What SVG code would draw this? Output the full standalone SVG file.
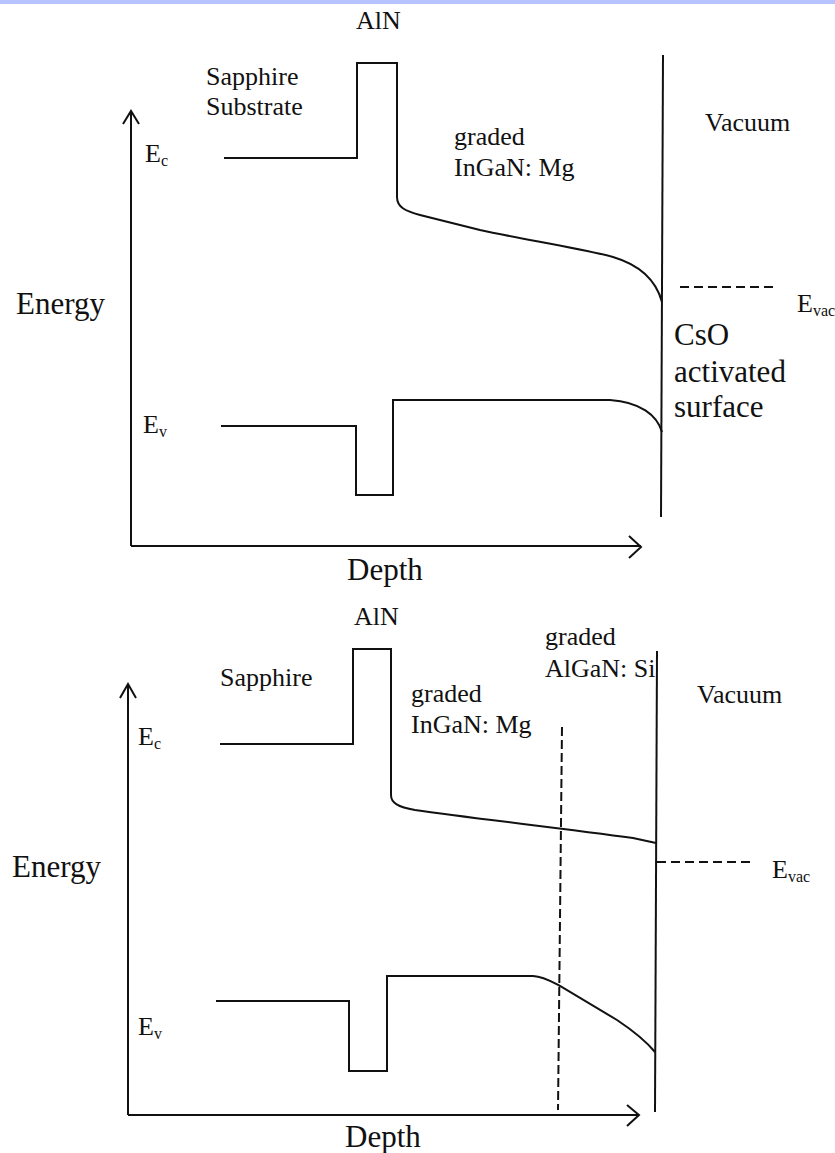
<svg xmlns="http://www.w3.org/2000/svg" width="835" height="1153" viewBox="0 0 835 1153">
<style>
.l{font-size:26px}
.b{font-size:31px}
.e{font-size:26px}
.s{font-size:16px}
.ln{fill:none;stroke:#111;stroke-width:2;stroke-linejoin:miter}
.ds{fill:none;stroke:#111;stroke-width:2;stroke-dasharray:9 5}
</style>
<rect x="0" y="0" width="835" height="1153" fill="#fff"/>
<rect x="0" y="0" width="835" height="4" fill="#b7c3ff"/>
<g id="connectors">
<path class="ln" d="M131,546 V111 M123,124 L131,111 L139,124"/>
<path class="ln" d="M131,546 H641 M629,536 L641,547 L629,558"/>
<path class="ln" d="M128,1115 V684 M120,698 L128,684 L136,698"/>
<path class="ln" d="M128,1115 H639 M627,1105 L639,1115 L627,1126"/>
</g>
<g id="top-panel" font-family="'Liberation Serif', 'Times New Roman', 'DejaVu Serif', serif" fill="#111">
<path id="top-ec" class="ln" d="M224,158 H357 V63 H397 V197 C397,207 405,211 420,215 L480,230 C520,239 580,248 613,257 C640,265 656,280 662,302"/>
<path id="top-ev" class="ln" d="M221,426 H356 V495 H393 V400 H610 C640,402 657,415 662,432"/>
<line id="top-vacuum" class="ln" x1="663" y1="55" x2="661" y2="517"/>
<line id="top-evac" class="ds" x1="680" y1="287" x2="777" y2="287"/>
<text class="l" x="356" y="29">AlN</text>
<text class="l" x="206" y="85">Sapphire</text>
<text class="l" x="206" y="115">Substrate</text>
<text class="e" x="145" y="162">E<tspan class="s" dy="4">c</tspan></text>
<text class="l" x="454" y="145">graded</text>
<text class="l" x="454" y="176">InGaN: Mg</text>
<text class="l" x="705" y="131">Vacuum</text>
<text class="b" x="16" y="314">Energy</text>
<text class="e" x="797" y="312">E<tspan class="s" dy="4">vac</tspan></text>
<text class="b" x="674" y="345">CsO</text>
<text class="b" x="674" y="382">activated</text>
<text class="b" x="674" y="417">surface</text>
<text class="e" x="143" y="433">E<tspan class="s" dy="4">v</tspan></text>
<text class="b" x="347" y="580">Depth</text>
</g>
<g id="bottom-panel" font-family="'Liberation Serif', 'Times New Roman', 'DejaVu Serif', serif" fill="#111">
<path id="bot-ec" class="ln" d="M220,744 H353 V649 H391 V795 C391,803 398,807 415,810 C470,818 560,828 633,838 L656,843"/>
<path id="bot-ev" class="ln" d="M216,1001 H349 V1071 H387 V976 H533 C545,977 552,982 560,986 L617,1020 C632,1030 645,1040 655,1052"/>
<line id="bot-vacuum" class="ln" x1="657" y1="651" x2="655" y2="1112"/>
<line id="bot-interface" class="ds" style="stroke-dasharray:9 4" x1="562" y1="727" x2="558" y2="1110"/>
<line id="bot-evac" class="ds" x1="657" y1="862" x2="752" y2="862"/>
<text class="l" x="354" y="625">AlN</text>
<text class="l" x="545" y="645">graded</text>
<text class="l" x="545" y="677">AlGaN: Si</text>
<text class="l" x="220" y="686">Sapphire</text>
<text class="l" x="697" y="703">Vacuum</text>
<text class="l" x="411" y="702">graded</text>
<text class="l" x="411" y="733">InGaN: Mg</text>
<text class="e" x="138" y="745">E<tspan class="s" dy="4">c</tspan></text>
<text class="b" x="12" y="877">Energy</text>
<text class="e" x="772" y="878">E<tspan class="s" dy="4">vac</tspan></text>
<text class="e" x="138" y="1035">E<tspan class="s" dy="4">v</tspan></text>
<text class="b" x="345" y="1147">Depth</text>
</g>
</svg>
